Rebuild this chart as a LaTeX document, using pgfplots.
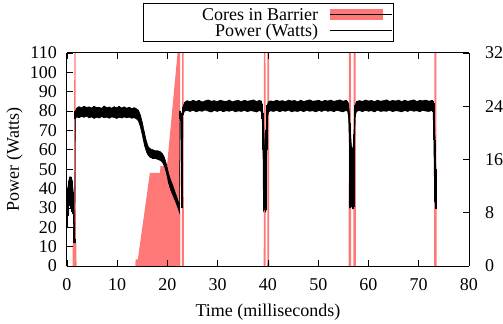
\documentclass[border=0pt]{standalone}
\usepackage{fontspec}
\setmainfont{Liberation Serif}
\usepackage{pgfplots}
\usepackage{pgfplotstable}
\pgfplotsset{compat=1.18}
\definecolor{coresred}{RGB}{255,120,120}
\newcommand{\fs}{\fontsize{18bp}{21bp}\selectfont}

\pgfplotstableread{
t c
0 0
1.1 0
1.15 3.5
1.4 3.5
1.45 32
1.7 32
1.75 3.5
1.85 3.5
1.9 0
13.6 0
13.65 1
14.1 1
16.5 14
18.5 14
18.6 15
19.9 15
22.0 32
22.5 32
22.55 0
22.85 0
22.9 32
23.2 32
23.25 0
39.15 0
39.2 32
39.5 32
39.55 0
39.85 0
39.9 32
40.2 32
40.25 0
56.05 0
56.1 32
56.5 32
56.55 0
57.0 0
57.05 32
57.45 32
57.5 0
73.05 0
73.1 32
73.5 32
73.55 0
80 0
}\cores

\pgfplotstableread{
t u l
0.0 34 20
0.15 40 26
0.35 44 31
0.55 46 32
0.8 46 30
1.05 44 28
1.25 38 27
1.4 20 12
1.55 14 12
1.65 80 76
1.9 81.5 77.0
2.4 82.3 76.6
2.9 81.7 77.2
3.4 82.5 76.8
3.9 81.9 77.4
4.4 82.2 76.5
4.9 81.6 77.0
5.4 82.4 76.2
5.9 81.8 76.9
6.4 82.0 76.4
6.9 81.4 77.1
7.4 82.6 76.6
7.9 81.8 76.9
8.4 82.1 76.3
8.9 81.5 77.0
9.4 82.3 76.7
9.9 81.7 76.2
10.4 82.4 76.8
10.9 81.6 76.4
11.4 82.2 77.0
11.9 81.5 76.5
12.4 82.0 76.9
12.9 81.3 76.3
13.4 81.8 76.6
13.8 81.2 76.0
14.2 80.5 75.0
14.6 78.0 72.0
15.0 74.0 67.5
15.4 69.0 62.5
15.8 64.5 59.0
16.2 61.5 57.0
16.6 60.5 56.0
17.1 60.0 55.5
17.6 59.5 55.5
18.1 59.5 55.0
18.6 59.0 54.5
19.0 58.0 53.5
19.4 56.0 51.5
19.8 52.5 48.0
20.2 48.0 43.0
20.6 44.5 39.5
21.0 42.0 37.0
21.4 39.0 34.5
21.8 36.0 32.0
22.2 33.0 29.0
22.4 31.0 27.5
22.5 80.0 76.0
22.7 79.0 75.0
22.8 78.0 30.0
22.95 78.0 30.0
23.05 82.0 78.0
23.4 84.5 80.0
23.9 85.4 80.3
24.5 84.8 79.8
25.1 85.6 80.5
25.7 85.0 79.6
26.3 85.5 80.2
26.9 84.7 79.9
27.5 85.3 80.6
28.1 85.8 80.0
28.7 85.1 79.5
29.3 85.4 80.3
29.9 84.9 79.8
30.5 85.6 80.4
31.1 85.2 79.7
31.7 85.0 80.2
32.3 85.7 79.9
32.9 84.8 80.5
33.5 85.3 79.6
34.1 85.5 80.1
34.7 84.9 79.8
35.3 85.6 80.4
35.9 85.1 79.7
36.5 85.4 80.2
37.1 85.8 80.0
37.7 85.0 79.5
38.3 85.5 80.3
38.65 85.2 79.8
38.85 83.5 76.0
39.0 79.0 60.0
39.1 75.0 28.5
39.3 62.0 30.0
39.5 58.0 28.0
39.65 70.0 29.0
39.75 80.0 60.0
39.85 83.0 76.0
40.1 84.8 79.5
40.5 85.3 80.2
41.1 85.0 79.8
41.7 85.6 80.4
42.3 85.1 79.7
42.9 85.4 80.2
43.5 84.9 79.9
44.1 85.7 80.5
44.7 85.2 79.6
45.3 85.5 80.1
45.9 84.8 79.8
46.5 85.6 80.3
47.1 85.0 79.7
47.7 85.4 80.4
48.3 85.8 79.9
48.9 85.1 80.2
49.5 85.3 79.6
50.1 85.6 80.3
50.7 84.9 79.8
51.3 85.5 80.5
51.9 85.2 79.9
52.5 85.7 80.2
53.1 85.0 79.7
53.7 85.4 80.4
54.3 85.8 80.0
54.9 85.1 79.6
55.5 85.5 80.3
55.85 85.0 79.9
56.05 83.5 76.5
56.2 79.0 62.0
56.3 74.0 30.0
56.6 62.0 31.0
56.9 60.0 29.5
57.1 68.0 30.5
57.2 79.0 62.0
57.35 83.0 77.0
57.6 85.0 79.8
58.2 85.4 80.3
58.8 85.0 79.7
59.4 85.7 80.4
60.0 85.2 79.9
60.6 85.5 80.2
61.2 84.9 79.6
61.8 85.6 80.5
62.4 85.1 79.8
63.0 85.4 80.1
63.6 85.8 79.9
64.2 85.0 80.4
64.8 85.5 79.7
65.4 85.2 80.2
66.0 85.7 80.0
66.6 84.9 79.6
67.2 85.6 80.3
67.8 85.1 79.8
68.4 85.4 80.5
69.0 85.8 79.9
69.6 85.0 80.2
70.2 85.5 79.7
70.8 85.3 80.4
71.4 85.7 80.0
72.0 85.1 79.8
72.6 85.5 80.3
72.85 85.2 79.6
73.0 84.0 65.0
73.1 80.0 45.0
73.25 65.0 33.0
73.4 50.0 29.5
}\power

\begin{document}
\begin{tikzpicture}
\pgfplotsset{
  common/.style={
    scale only axis, width=402bp, height=213bp,
    at={(0,0)}, anchor=south west,
    xmin=0, xmax=80,
    axis line style={line width=1bp, black},
    tick style={line width=0.8bp, black},
    major tick length=6bp,
    tick align=inside,
    tick label style={font=\fs},
    label style={font=\fs},
    /pgf/number format/assume math mode=true,
  }
}
% Cores (right axis), drawn first
\begin{axis}[common,
  ymin=0, ymax=32, ytick={0,8,16,24,32},
  axis y line*=right, hide x axis,
  yticklabel style={anchor=west, inner sep=0pt, xshift=16bp},
]
\addplot[fill=coresred, draw=none] table[x=t, y=c] {\cores} \closedcycle;
\end{axis}
% Power (left axis)
\begin{axis}[common,
  ymin=0, ymax=110, ytick={0,10,...,110},
  xtick={0,10,...,80},
  axis y line*=left,
  xticklabel style={anchor=north, inner sep=0pt, yshift=-12bp},
  yticklabel style={anchor=east, inner sep=0pt, xshift=-10bp},
  xlabel={Time (milliseconds)},
  ylabel={Power (Watts)},
  every axis x label/.style={at={(axis description cs:0.5,0)}, anchor=center, yshift=-46.5bp, inner sep=0pt, font=\fs},
  every axis y label/.style={at={(axis description cs:-0.1306,0.5)}, rotate=90, anchor=center, inner sep=0pt, font=\fs},
  legend plot pos=right,
  legend cell align=right,
  legend style={at={(0.5,1)}, anchor=south, yshift=11bp, draw=black, line width=0.8bp,
    inner xsep=0pt, inner ysep=4bp, column sep=12bp, row sep=0pt,
    nodes={inner sep=0pt}, font=\fs},
]
\addlegendimage{legend image code/.code={\fill[coresred] (0bp,-5bp) rectangle (52bp,5bp); \path (0bp,0bp) -- (62bp,0bp);}}
\addlegendentry{\makebox[175bp][r]{Cores in Barrier\rule[-2.6bp]{0pt}{16.4bp}}}
\addlegendimage{legend image code/.code={\draw[black, line width=0.8bp] (0bp,0bp) -- (52bp,0bp); \path (0bp,0bp) -- (62bp,0bp);}}
\addlegendentry{\makebox[175bp][r]{Power (Watts)\rule[-2.6bp]{0pt}{16.4bp}}}
\addplot[draw=none, stack plots=y, forget plot] table[x=t, y=l] {\power};
\addplot[fill=black, draw=black, line width=0.6bp, stack plots=y, forget plot] table[x=t, y expr=\thisrow{u}-\thisrow{l}] {\power} \closedcycle;
\addplot[draw=none, mark=none, forget plot,
  error bars/.cd, y dir=both, y explicit, error mark=none,
  error bar style={line width=1.6bp, black, line cap=butt}]
  table[x=t, y expr=(\thisrow{u}+\thisrow{l})/2, y error expr=(\thisrow{u}-\thisrow{l})/2] {\power};
\end{axis}
\pgfresetboundingbox
\path[use as bounding box] (-67bp,-58bp) rectangle (436bp,266bp);
\end{tikzpicture}
\end{document}
